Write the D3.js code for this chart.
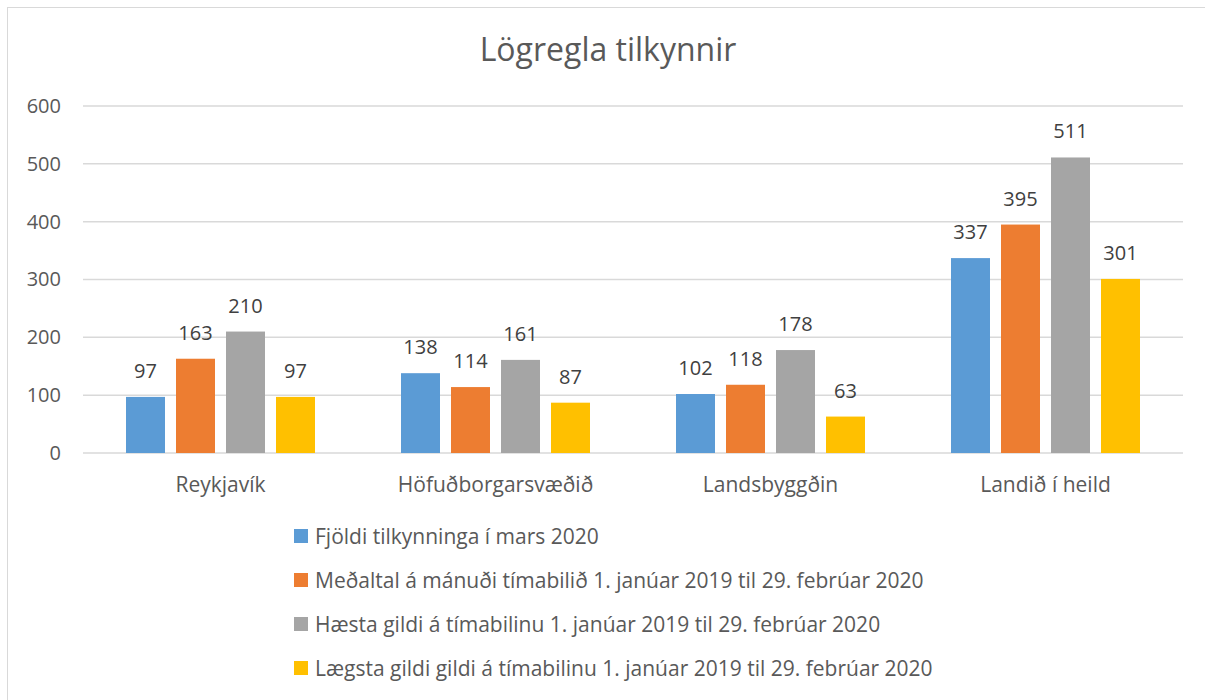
<!DOCTYPE html>
<html><head><meta charset="utf-8">
<script src="https://cdn.jsdelivr.net/npm/d3@7"></script>
<style>body{margin:0;background:#fff;}svg{display:block;font-family:"Open Sans",sans-serif;}</style>
</head><body><svg id="c" width="1205" height="700"></svg>
<script>
const categories = ["Reykjavík","Höfuðborgarsvæðið","Landsbyggðin","Landið í heild"];
const seriesNames = [
  "Fjöldi tilkynninga í mars 2020",
  "Meðaltal á mánuði tímabilið 1. janúar 2019 til 29. febrúar 2020",
  "Hæsta gildi á tímabilinu 1. janúar 2019 til 29. febrúar 2020",
  "Lægsta gildi gildi á tímabilinu 1. janúar 2019 til 29. febrúar 2020"
];
const fjoldi = [97,138,102,337];
const medaltal = [163,114,118,395];
const haesta = [210,161,178,511];
const laegsta = [97,87,63,301];
const yTicks = [0,100,200,300,400,500,600];
const colors = ["#5B9BD5","#ED7D31","#A5A5A5","#FFC000"];
const seriesValues = [fjoldi, medaltal, haesta, laegsta];
const FONT = "'Open Sans',sans-serif";

const svg = d3.select("#c");
svg.append("rect").attr("x",7.5).attr("y",7.5).attr("width",1205).attr("height",700)
  .attr("fill","#fff").attr("stroke","#d9d9d9").attr("stroke-width",1);

const pLeft=83, pRight=1183, pTop=106, pBottom=453;
const x0 = d3.scaleBand().domain(categories).range([pLeft,pRight]).padding(0);
const x1 = d3.scaleBand().domain(d3.range(4)).range([43,232]).paddingInner(0.22).paddingOuter(0);
const y = d3.scaleLinear().domain([0,600]).range([pBottom,pTop]);

svg.append("text").attr("x",608).attr("y",61).attr("text-anchor","middle")
  .attr("font-size",32).attr("fill","#595959").text("Lögregla tilkynnir");

// gridlines
svg.append("g").selectAll("line").data(yTicks).join("line")
  .attr("x1",pLeft).attr("x2",pRight).attr("y1",d=>y(d)).attr("y2",d=>y(d))
  .attr("stroke","#d9d9d9").attr("stroke-width",1.5);

// y axis
const yAxis = svg.append("g").attr("transform",`translate(${pLeft-22},0)`)
  .call(d3.axisLeft(y).tickValues(yTicks).tickSize(0).tickPadding(0));
yAxis.select(".domain").remove();
yAxis.selectAll("text").attr("font-size",20).attr("fill","#595959").attr("font-family",FONT);

// x axis
const xAxis = svg.append("g").attr("transform",`translate(0,${pBottom})`)
  .call(d3.axisBottom(x0).tickSize(0).tickPadding(24));
xAxis.select(".domain").remove();
xAxis.selectAll("text").attr("font-size",21).attr("fill","#595959").attr("font-family",FONT);

// bars
const groups = svg.append("g").selectAll("g").data(categories).join("g")
  .attr("transform",d=>`translate(${x0(d)},0)`);
groups.each(function(cat,ci){
  const g = d3.select(this);
  const data = seriesValues.map((vals,si)=>({si, v: vals[ci]}));
  g.selectAll("rect").data(data).join("rect")
    .attr("x",d=>x1(d.si)).attr("width",x1.bandwidth())
    .attr("y",d=>y(d.v)).attr("height",d=>y(0)-y(d.v))
    .attr("fill",d=>colors[d.si]);
  g.selectAll("text").data(data).join("text")
    .attr("x",d=>x1(d.si)+x1.bandwidth()/2).attr("y",d=>y(d.v)-19)
    .attr("text-anchor","middle").attr("font-size",20).attr("fill","#404040")
    .text(d=>d.v);
});

// legend
const leg = svg.append("g").selectAll("g").data(seriesNames).join("g")
  .attr("transform",(d,i)=>`translate(294,${536+i*44})`);
leg.append("rect").attr("x",0).attr("y",-7).attr("width",14).attr("height",14)
  .attr("fill",(d,i)=>colors[i]);
leg.append("text").attr("x",21).attr("y",7.5).attr("font-size",21).attr("fill","#595959").text(d=>d);
</script></body></html>
